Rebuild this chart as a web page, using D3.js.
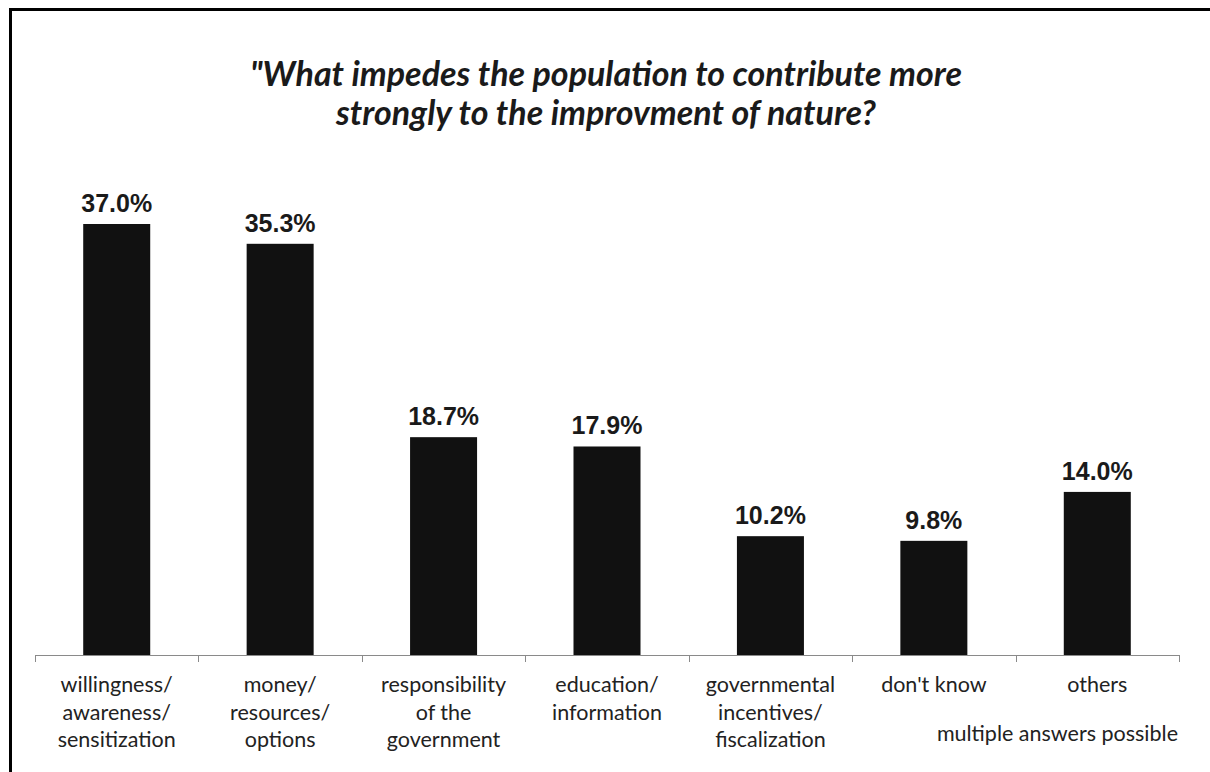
<!DOCTYPE html>
<meta charset="utf-8">
<style>
body { margin: 0; background: #fff; }
.title { font: italic bold 34px Lato, "Open Sans", sans-serif; fill: #1a1a1a; }
.value { font: bold 25px "Liberation Sans", Arial, sans-serif; fill: #1a1a1a; }
.cat { font: 21.5px Lato, "Open Sans", sans-serif; fill: #222; }
.note { font: 21.5px Lato, "Open Sans", sans-serif; fill: #222; }
</style>
<svg width="1210" height="772"></svg>
<script src="https://cdn.jsdelivr.net/npm/d3@7"></script>
<script>
    // chart data
    var categories = [
        ["willingness/", "awareness/", "sensitization"],
        ["money/", "resources/", "options"],
        ["responsibility", "of the", "government"],
        ["education/", "information"],
        ["governmental", "incentives/", "fiscalization"],
        ["don't know"],
        ["others"]
    ];
    var values = [37.0, 35.3, 18.7, 17.9, 10.2, 9.8, 14.0];
    var titleLines = ["\"What impedes the population to contribute more",
                      "strongly to the improvment of nature?"];
    var note = "multiple answers possible";

    var svg = d3.select("svg");

    // frame: only top and left edges visible
    svg.append("path")
    .attr("d", "M10.5,1210V9.5H1210")
    .attr("fill", "none")
    .attr("stroke", "#000")
    .attr("stroke-width", 3);

    var margin = {left: 35, right: 31},
    baseY = 655;

    var x = d3.scaleBand()
    .domain(d3.range(values.length))
    .range([margin.left, 1210 - margin.right])
    .paddingInner(0.59)
    .paddingOuter(0.295);

    var y = d3.scaleLinear()
    .domain([0, 37.0])
    .range([baseY, 224]);

    svg.selectAll(".title")
    .data(titleLines)
    .enter().append("text")
    .attr("class", "title")
    .attr("x", 606)
    .attr("y", function(d, i) { return 86 + i * 39; })
    .attr("text-anchor", "middle")
    .text(function(d) { return d; });

    svg.selectAll(".bar")
    .data(values)
    .enter().append("rect")
    .attr("class", "bar")
    .attr("x", function(d, i) { return x(i); })
    .attr("y", function(d) { return y(d); })
    .attr("width", x.bandwidth())
    .attr("height", function(d) { return baseY - y(d); })
    .attr("fill", "#111");

    svg.selectAll(".value")
    .data(values)
    .enter().append("text")
    .attr("class", "value")
    .attr("x", function(d, i) { return x(i) + x.bandwidth() / 2; })
    .attr("y", function(d) { return y(d) - 12; })
    .attr("text-anchor", "middle")
    .text(function(d) { return d3.format(".1f")(d) + "%"; });

    // axis line with ticks between categories
    var tickX = d3.range(values.length + 1).map(function(i) { return margin.left + i * (1210 - margin.left - margin.right) / values.length; });
    svg.append("line")
    .attr("x1", tickX[0]).attr("x2", tickX[tickX.length - 1])
    .attr("y1", baseY + 0.5).attr("y2", baseY + 0.5)
    .attr("stroke", "#8a8a8a");
    svg.selectAll(".tick")
    .data(tickX)
    .enter().append("line")
    .attr("x1", function(d) { return Math.round(d) + 0.5; })
    .attr("x2", function(d) { return Math.round(d) + 0.5; })
    .attr("y1", baseY).attr("y2", baseY + 7)
    .attr("stroke", "#8a8a8a");

    var cat = svg.selectAll(".cat")
    .data(categories)
    .enter().append("text")
    .attr("class", "cat")
    .attr("text-anchor", "middle")
    .attr("x", function(d, i) { return x(i) + x.bandwidth() / 2; })
    .attr("y", 692);
    cat.selectAll("tspan")
    .data(function(d) { return d; })
    .enter().append("tspan")
    .attr("x", function() { return d3.select(this.parentNode).attr("x"); })
    .attr("dy", function(d, i) { return i ? 27.5 : 0; })
    .text(function(d) { return d; });

    svg.append("text")
    .attr("class", "note")
    .attr("x", 1178)
    .attr("y", 741)
    .attr("text-anchor", "end")
    .text(note);
</script>
